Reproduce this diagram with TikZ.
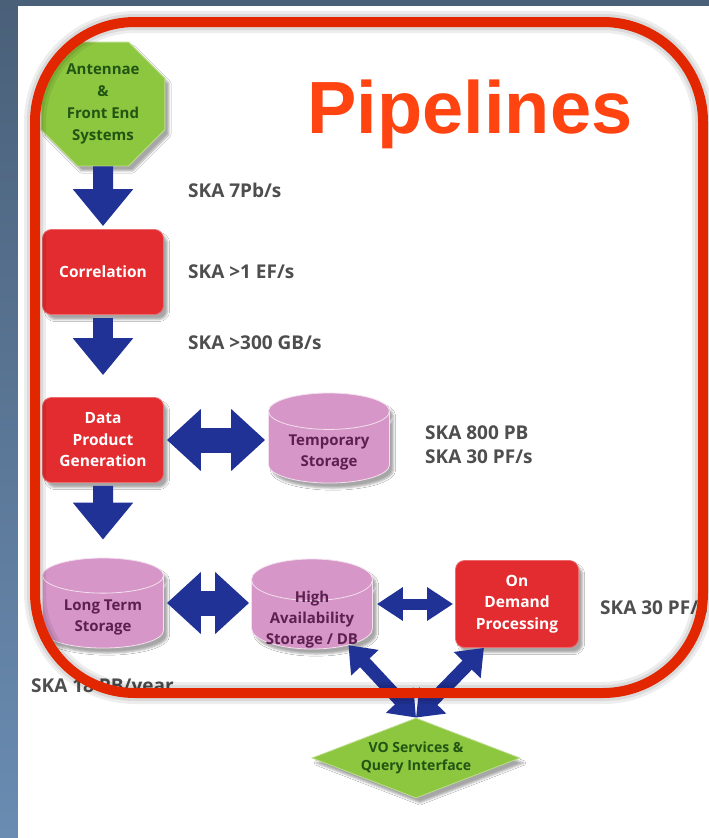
\documentclass[tikz,border=0pt]{standalone}
\usepackage{fontspec}
\setmainfont{Open Sans}
\newfontfamily\headfont{Liberation Sans}
\usepackage{tikz}
\usetikzlibrary{positioning,arrows.meta,shapes.geometric,shadows.blur}
\definecolor{slide}{RGB}{74,96,121}
\definecolor{slidelow}{RGB}{106,140,178}
\definecolor{ring}{RGB}{226,38,0}
\definecolor{headred}{RGB}{255,68,18}
\definecolor{procred}{RGB}{226,44,48}
\definecolor{drumpink}{RGB}{214,150,200}
\definecolor{drumink}{RGB}{92,32,78}
\definecolor{arrowblue}{RGB}{33,50,150}
\definecolor{leaf}{RGB}{141,198,63}
\definecolor{leafink}{RGB}{34,84,20}
\definecolor{noteink}{RGB}{78,78,78}
% text of a storage drum, sitting low in its body
\newcommand\drumtext[1]{\smash{\raisebox{-8pt}{\begin{tabular}{@{}c@{}}#1\end{tabular}}}}

\begin{document}
\begin{tikzpicture}[x=1pt, y=-1pt,
		soft/.style={blur shadow={shadow xshift=4pt, shadow yshift=-5pt, shadow opacity=35}},
		procbox/.style={soft, rounded corners=9pt, fill=procred, draw=procred!70!white, thick,
			text=white, font=\fontsize{15.5}{21.5}\selectfont\bfseries, align=center,
			minimum width=121pt, minimum height=85pt},
		drum/.style={soft, cylinder, shape border rotate=90, aspect=0.45, anchor=shape center,
			fill=drumpink, draw=white!70!drumpink, thick, text=drumink, inner sep=0pt,
			font=\fontsize{15}{21}\selectfont\bfseries,
			minimum width=121pt, minimum height=90pt},
		note/.style={anchor=west, inner sep=0pt, text=noteink, font=\fontsize{19}{24}\selectfont\bfseries},
		feed/.style={line width=20pt, arrowblue, -{Triangle[length=37pt, width=58pt]}},
		xfer/.style={line width=25pt, arrowblue,
			{Triangle[length=34pt, width=60pt]}-{Triangle[length=34pt, width=60pt]}},
		xfersmall/.style={line width=11pt, arrowblue,
			{Triangle[length=26pt, width=32pt]}-{Triangle[length=26pt, width=32pt]}},
		xferdiag/.style={line width=13pt, arrowblue,
			{Triangle[length=24pt, width=36pt]}-{Triangle[length=24pt, width=36pt]}}]
	\useasboundingbox (0,0) rectangle (709,838);
	% slide backdrop
	\fill[slide] (0,0) rectangle (709,838);
	\shade[top color=slide, bottom color=slidelow] (0,0) rectangle (18,838);
	\fill[white] (18,6) rectangle (709,838);

	\node[anchor=base, inner sep=0pt, text=headred,
		font=\headfont\bfseries\fontsize{74}{74}\selectfont] (title) at (470,133) {Pipelines};

	\node[soft, regular polygon, regular polygon sides=8, minimum size=134pt, inner sep=0pt,
		fill=leaf, draw=leaf!60!white, thick, text=leafink, align=center,
		font=\fontsize{15}{22}\selectfont\bfseries] (ant) at (103,104)
		{Antennae\\\&\\Front End\\Systems};
	\node[procbox] (corr) at (103,272) {Correlation};
	\node[procbox] (dpg) at (103,440) {Data\\Product\\Generation};
	\node[drum] (tmp) at (329,438) {\drumtext{Temporary\\Storage}};
	\node[drum] (lts) at (103,603) {\drumtext{Long Term\\Storage}};
	\node[drum] (has) at (312,604) {\drumtext{High\\Availability\\Storage / DB}};
	\node[procbox, minimum width=123pt, minimum height=87pt] (odp) at (517,604)
		{On\\Demand\\Processing};
	\node[soft, diamond, aspect=2.6, minimum width=208pt, minimum height=80pt, inner sep=0pt,
		fill=leaf, draw=leaf!60!white, thick, text=leafink, align=center,
		font=\fontsize{14}{18}\selectfont\bfseries] (vo) at (416,758)
		{VO Services \&\\Query Interface};

	% rates
	\node[note] (rate1) at (188,190) {SKA 7Pb/s};
	\node[note] (rate2) at (188,272) {SKA >1 EF/s};
	\node[note] (rate3) at (188,343) {SKA >300 GB/s};
	\node[note, align=left] (rate4) at (425,445) {SKA 800 PB\\SKA 30 PF/s};
	\node[note] (rate5) at (600,608) {SKA 30 PF/s};
	\node[note] (rate6) at (31,688) {SKA 18 PB/year};

	\draw[feed, shorten >=3pt] (ant) -- (corr);
	\draw[feed, shorten <=3pt, shorten >=22pt] (corr) -- (dpg);
	\draw[feed, shorten <=3pt, shorten >=18pt] (dpg) -- (lts);
	\draw[xfer, shorten <=3pt, shorten >=3pt] (dpg.east) -- (dpg.east -| tmp.180);
	\draw[xfer, shorten <=3pt, shorten >=2pt] (lts.shape center -| lts.0) -- (lts.shape center -| has.180);
	\draw[xfersmall, shorten <=4pt, shorten >=2pt] (has.shape center -| has.0) -- (has.shape center -| odp.west);
	\draw[xferdiag] (vo.north) -- (has.-40);
	\draw[xferdiag] (vo.north) -- (odp.-127);

	\node[draw=ring, line width=10pt, rounded corners=100pt, inner sep=0pt,
		minimum width=668pt, minimum height=671pt,
		preaction={draw=black, line width=22pt, opacity=.07},
		preaction={draw=black, line width=16pt, opacity=.08}] (pane) at (369,357.5) {};
\end{tikzpicture}
\end{document}
